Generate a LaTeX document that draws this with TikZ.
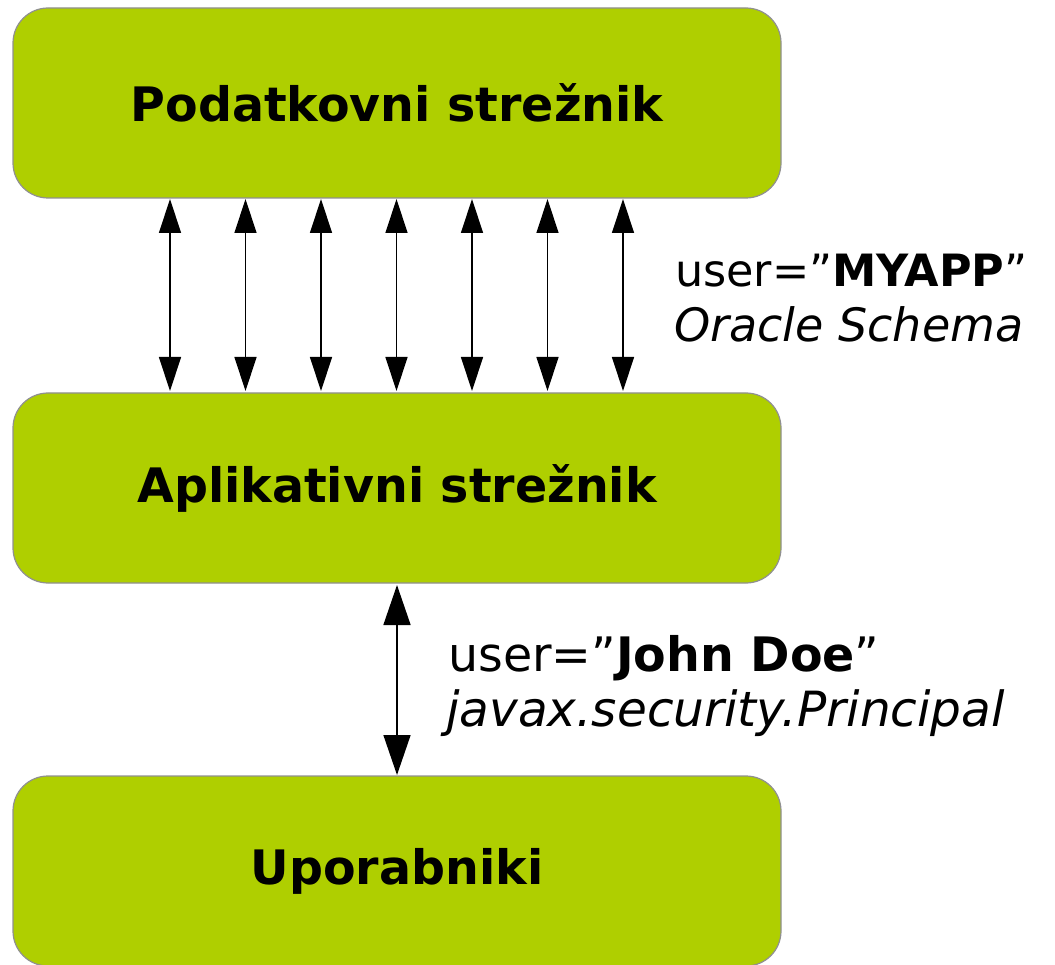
\documentclass[tikz,border=0pt]{standalone}
\usepackage{fontspec}
\setmainfont{DejaVu Sans}
\usetikzlibrary{arrows.meta}
\definecolor{boxgreen}{HTML}{AFCF00}
\definecolor{boxedge}{HTML}{909090}
\tikzset{
  tier/.style={draw=boxedge, line width=1.2pt, fill=boxgreen, rounded corners=35pt,
    minimum width=768pt, minimum height=190pt, inner sep=0pt,
    font=\fontsize{47.5}{55}\selectfont\bfseries},
  link/.style={line width=1.3pt, {Triangle[width=22pt,length=34pt]}-{Triangle[width=22pt,length=34pt]}},
  biglink/.style={line width=1.5pt, {Triangle[width=27pt,length=40pt]}-{Triangle[width=27pt,length=40pt]}},
  noteup/.style={anchor=base west, inner sep=0pt, font=\fontsize{44.5}{55}\selectfont},
  notelow/.style={anchor=base west, inner sep=0pt, font=\fontsize{46}{55}\selectfont\itshape},
  noteupbig/.style={anchor=base west, inner sep=0pt, font=\fontsize{47.5}{55}\selectfont},
  notelowbig/.style={anchor=base west, inner sep=0pt, font=\fontsize{48.5}{55}\selectfont\itshape}
}
\begin{document}
\begin{tikzpicture}[x=1pt,y=-1pt]
\useasboundingbox (0,0) rectangle (1055,965);
\node[tier] (db) at (397,103) {Podatkovni strežnik};
\node[tier] (app) at (397,488) {Aplikativni strežnik};
\node[tier] (usr) at (397,871) {\raisebox{-3pt}{Uporabniki}};
\foreach \i in {0,...,6} {
  \pgfmathsetmacro{\xx}{170+75.5*\i}
  \coordinate (t\i) at (\xx,199);
  \coordinate (b\i) at (\xx,391);
  \draw[link] (t\i) -- (b\i);
}
\coordinate (ut) at (397,585);
\coordinate (ub) at (397,775);
\draw[biglink] (ut) -- (ub);
\node[noteup] (n1a) at (675,287) {user=”\textbf{MYAPP}”};
\node[notelow] (n1b) at (674,342) {Oracle Schema};
\node[noteupbig] (n2a) at (448,671) {user=”\textbf{John Doe}”};
\node[notelowbig] (n2b) at (446,726) {javax.security.Principal};
\end{tikzpicture}
\end{document}
